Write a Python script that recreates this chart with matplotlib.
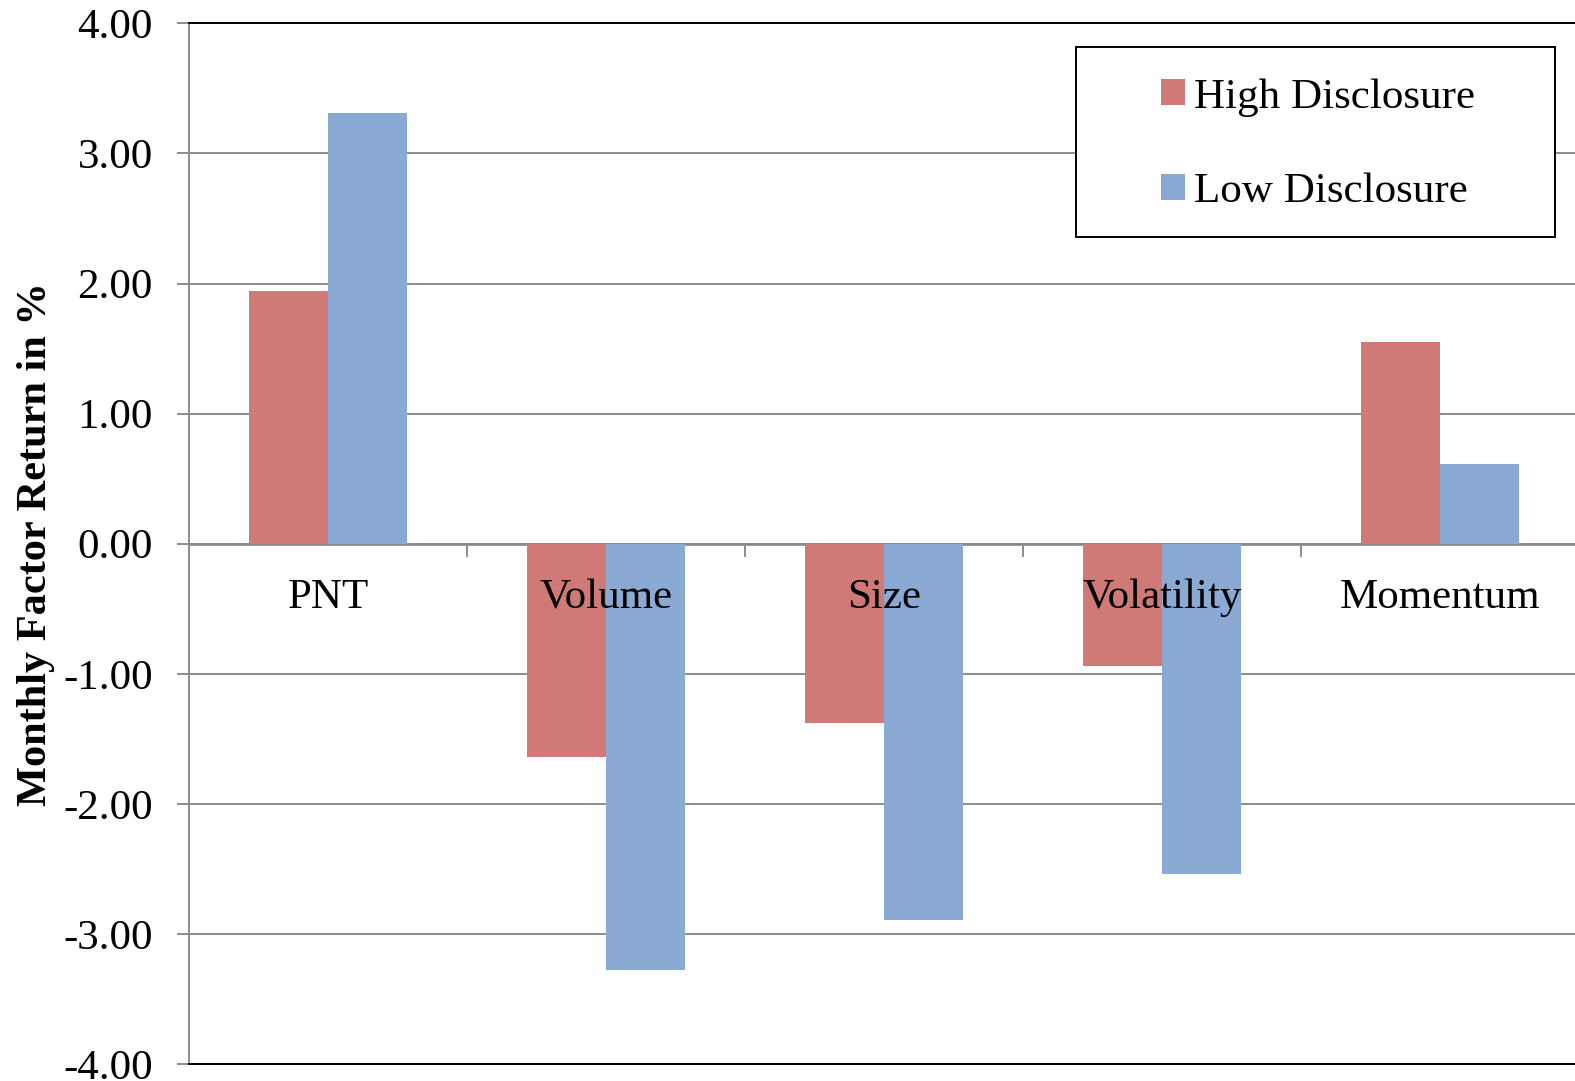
import numpy as np
import matplotlib
matplotlib.use('Agg')
import matplotlib.pyplot as plt
from matplotlib.patches import Rectangle

# data
categories = ['PNT', 'Volume', 'Size', 'Volatility', 'Momentum']
high_disclosure = [1.94, -1.64, -1.38, -0.94, 1.55]
low_disclosure = [3.31, -3.28, -2.89, -2.54, 0.61]
series_names = ['High Disclosure', 'Low Disclosure']
yticks = [-4, -3, -2, -1, 0, 1, 2, 3, 4]

RED = '#CF7A77'
BLUE = '#8AAAD3'
GRID = '#8C8C8C'

plt.rcParams['font.family'] = ['Liberation Serif', 'DejaVu Serif']

fig = plt.figure(figsize=(15.75, 10.81), dpi=100)
ax = fig.add_axes([0.12, 0.0157, 0.88, 0.9627])

x = np.arange(len(categories))
w = 0.285
ax.bar(x - w / 2, high_disclosure, w, color=RED, label=series_names[0], zorder=3)
ax.bar(x + w / 2, low_disclosure, w, color=BLUE, label=series_names[1], zorder=3)

ax.set_xlim(-0.5, len(categories) - 0.514)
ax.set_ylim(-4, 4)
ax.set_yticks(yticks)
ax.set_yticklabels(['{:.2f}'.format(v) for v in yticks])
ax.yaxis.grid(True, color=GRID, linewidth=1.4, zorder=0)
ax.set_axisbelow(True)
ax.tick_params(axis='y', direction='out', length=9, width=1.4, color=GRID,
               labelsize=31, pad=17)
ax.tick_params(axis='x', bottom=False, labelbottom=False)

# zero line with category separator ticks
ax.axhline(0, color=GRID, linewidth=2, zorder=2)
bounds = np.arange(len(categories) + 1) - 0.5
ax.vlines(bounds, -0.1, 0, color=GRID, linewidth=1.4, zorder=2)

for i, name in enumerate(categories):
    ax.annotate(name, (i, 0), xytext=(0, -39), textcoords='offset points',
                ha='center', va='center', fontsize=31, zorder=5)

ax.spines['left'].set_color(GRID)
ax.spines['left'].set_linewidth(1.4)
ax.spines['top'].set_color('black')
ax.spines['top'].set_linewidth(1.4)
ax.spines['bottom'].set_color('black')
ax.spines['bottom'].set_linewidth(1.4)
ax.spines['right'].set_visible(False)

ax.set_ylabel('Monthly Factor Return in %', fontsize=30.5, fontweight='bold', labelpad=6)

# legend frame drawn separately to get the wide padding
ax.add_patch(Rectangle((0.640, 0.7947), 0.3456, 0.1826, transform=ax.transAxes,
                       facecolor='white', edgecolor='black', linewidth=1.4, zorder=6))
leg = ax.legend(loc='center', bbox_to_anchor=(0.8145, 0.8835), frameon=False,
                fontsize=31, handlelength=0.55, handleheight=0.55,
                handletextpad=0.2, labelspacing=1.3)
leg.set_zorder(7)

fig.savefig('out.png', dpi=100)
